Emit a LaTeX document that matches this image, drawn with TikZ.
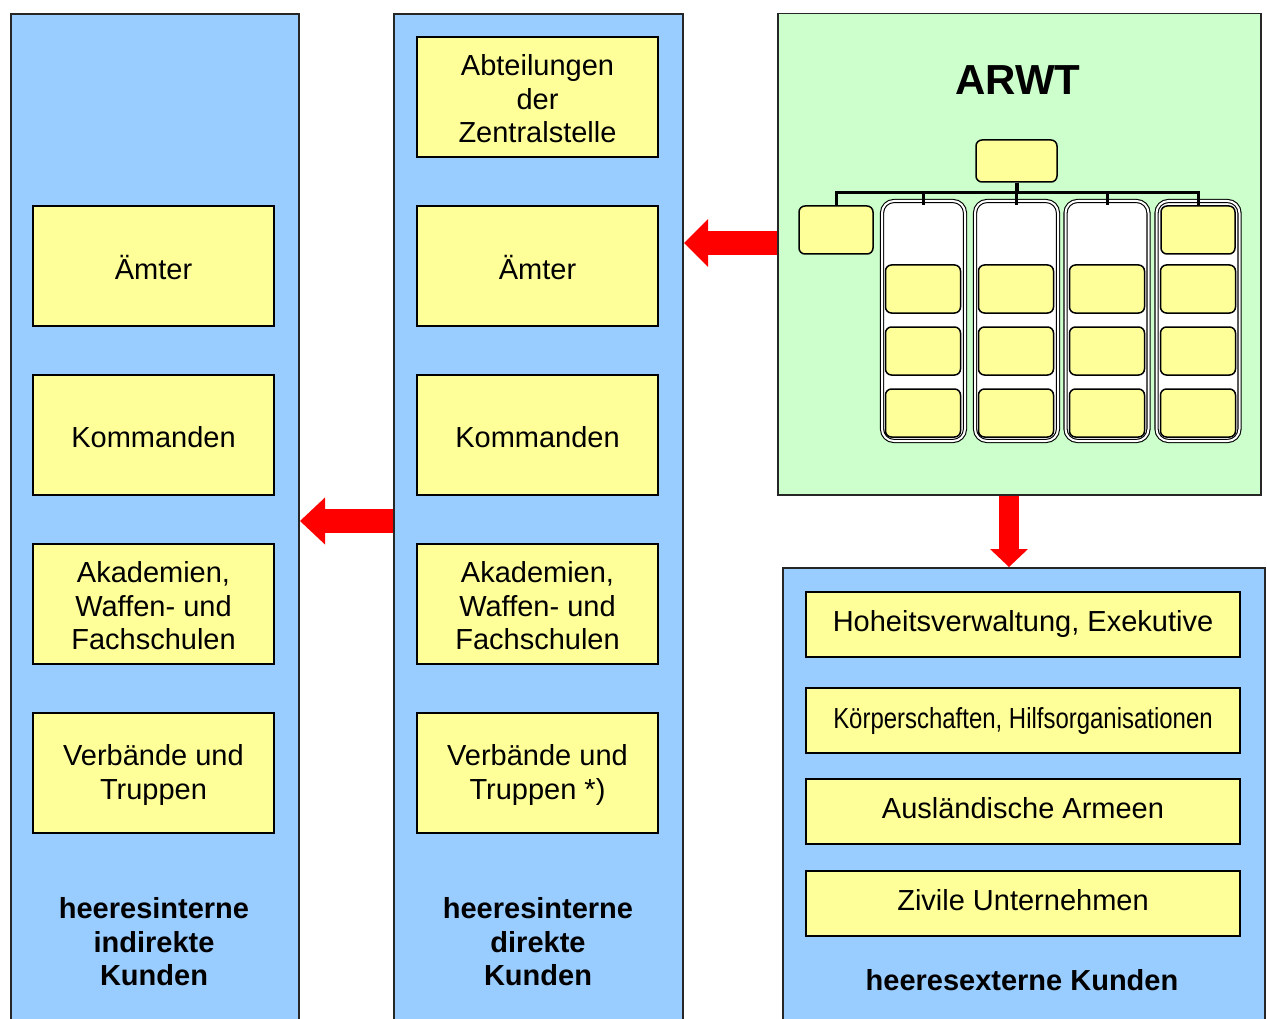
\documentclass[tikz,border=0pt]{standalone}
\usepackage{fontspec}
\usepackage{graphicx}
\setmainfont{Liberation Sans}
\usetikzlibrary{arrows.meta}
\definecolor{colblue}{HTML}{99CCFF}
\definecolor{colgreen}{HTML}{CCFFCC}
\definecolor{boxyellow}{HTML}{FFFF99}
\begin{document}
\begin{tikzpicture}[x=1pt,y=-1pt,
  panel/.style={draw=black!85, line width=2pt, fill=colblue, anchor=north west, inner sep=0pt},
  greenpanel/.style={draw=black!85, line width=1.5pt, fill=colgreen, anchor=north west, inner sep=0pt},
  custbox/.style={draw, line width=1.6pt, fill=boxyellow, minimum width=241pt, minimum height=120pt, inner sep=0pt},
  custtext/.style={align=center, inner sep=0pt, font=\fontsize{29}{33.5}\selectfont},
  ext/.style={draw, line width=1.6pt, fill=boxyellow, minimum width=434pt, minimum height=65pt, inner sep=0pt},
  exttext/.style={inner sep=0pt, font=\fontsize{29}{33.5}\selectfont},
  lbl/.style={align=center, inner sep=0pt, font=\bfseries\fontsize{29}{33.5}\selectfont},
  orgbox/.style={draw, line width=1.5pt, fill=boxyellow, rounded corners=6pt, inner sep=0pt},
  orgcol/.style={draw, line width=1.1pt, double=white, double distance=2pt, fill=white, rounded corners=12pt, inner sep=0pt, minimum width=83pt, minimum height=240pt},
  orgline/.style={draw, line width=3pt, line join=miter},
  bigarrow/.style={draw=red, line width=#1, line cap=butt}
]
\useasboundingbox (0,0) rectangle (1267,1019);
\clip (0,0) rectangle (1267,1019);

% panels
\node[panel, minimum width=288pt, minimum height=1030pt] (left) at (10,13) {};
\node[panel, minimum width=289pt, minimum height=1030pt] (mid) at (393,13) {};
\node[greenpanel, minimum width=483pt, minimum height=481pt] (green) at (777,13) {};
\node[panel, minimum width=482pt, minimum height=470pt] (extp) at (782,567) {};

% left column
\node[custbox] (lA) at (153.5,266) {};
\node[custtext] at (153.5,268) {Ämter};
\node[custbox] (lK) at (153.5,435) {};
\node[custtext] at (153.5,437) {Kommanden};
\node[custbox] (lS) at (153.5,604) {};
\node[custtext] at (153.5,606) {Akademien,\\Waffen- und\\Fachschulen};
\node[custbox] (lV) at (153.5,773) {};
\node[custtext] at (153.5,775) {Verbände und\\Truppen};
\node[lbl] (lL) at (154,942) {heeresinterne\\indirekte\\Kunden};

% middle column
\node[custbox] (mZ) at (537.5,97) {};
\node[custtext] at (537.5,99) {Abteilungen\\der\\Zentralstelle};
\node[custbox] (mA) at (537.5,266) {};
\node[custtext] at (537.5,268) {Ämter};
\node[custbox] (mK) at (537.5,435) {};
\node[custtext] at (537.5,437) {Kommanden};
\node[custbox] (mS) at (537.5,604) {};
\node[custtext] at (537.5,606) {Akademien,\\Waffen- und\\Fachschulen};
\node[custbox] (mV) at (537.5,773) {};
\node[custtext] at (537.5,775) {Verbände und\\Truppen *)};
\node[lbl] (mL) at (538,942) {heeresinterne\\direkte\\Kunden};

% external
\node[ext] (e1) at (1023,624.5) {};
\node[exttext] at (1023,624) {Hoheitsverwaltung, Exekutive};
\node[ext] (e2) at (1023,720.5) {};
\node[exttext] at (1023,721) {\scalebox{0.826}[1]{Körperschaften, Hilfsorganisationen}};
\node[ext] (e3) at (1023,811.5) {};
\node[exttext] at (1023,808) {Ausländische Armeen};
\node[ext] (e4) at (1023,903.5) {};
\node[exttext] at (1023,900) {Zivile Unternehmen};
\node[lbl] (eL) at (1022,980) {heeresexterne Kunden};

% ARWT
\node[inner sep=0pt, font=\bfseries\fontsize{42}{48}\selectfont] (arwt) at (1018,80) {ARWT};

\node[orgbox, minimum width=81pt, minimum height=42pt] (top) at (1016.5,161) {};
\node[orgbox, minimum width=74pt, minimum height=48pt] (lb) at (836,230) {};
\node[orgcol] (c1) at (923.5,321) {};
\node[orgcol] (c2) at (1016.5,321) {};
\node[orgcol] (c3) at (1107,321) {};
\node[orgcol] (c4) at (1198,321) {};
\foreach \c/\x in {c1/923,c2/1016,c3/1107,c4/1198}{
  \node[orgbox, minimum width=75pt, minimum height=48pt] (\c r1) at (\x,289) {};
  \node[orgbox, minimum width=75pt, minimum height=48pt] (\c r2) at (\x,351) {};
  \node[orgbox, minimum width=75pt, minimum height=48pt] (\c r3) at (\x,413) {};
}
\node[orgbox, minimum width=74pt, minimum height=48pt] (c4r0) at (1198,230) {};

\coordinate (bus) at (0,193);
\draw[line width=4pt] (top.south) -- (top.south |- bus);
\draw[orgline] (lb.north) -- (lb.north |- bus) -- (c4r0.north |- bus) -- (c4r0.north);
\draw[orgline] (c1.north |- bus) -- (c1.north |- lb.north);
\draw[orgline] (c2.north |- bus) -- (c2.north |- lb.north);
\draw[orgline] (c3.north |- bus) -- (c3.north |- lb.north);

% big arrows
\draw[bigarrow=24pt, -{Triangle[length=24pt,width=48pt,line width=0pt]}] (green.west |- 0,243) -- (mid.east |- 0,243);
\draw[bigarrow=24pt, -{Triangle[length=25pt,width=47pt,line width=0pt]}] (mid.west |- 0,521) -- (left.east |- 0,521);
\draw[bigarrow=20pt, -{Triangle[length=18pt,width=38pt,line width=0pt]}] (green.south -| 1009,0) -- (extp.north -| 1009,0);
\end{tikzpicture}
\end{document}
